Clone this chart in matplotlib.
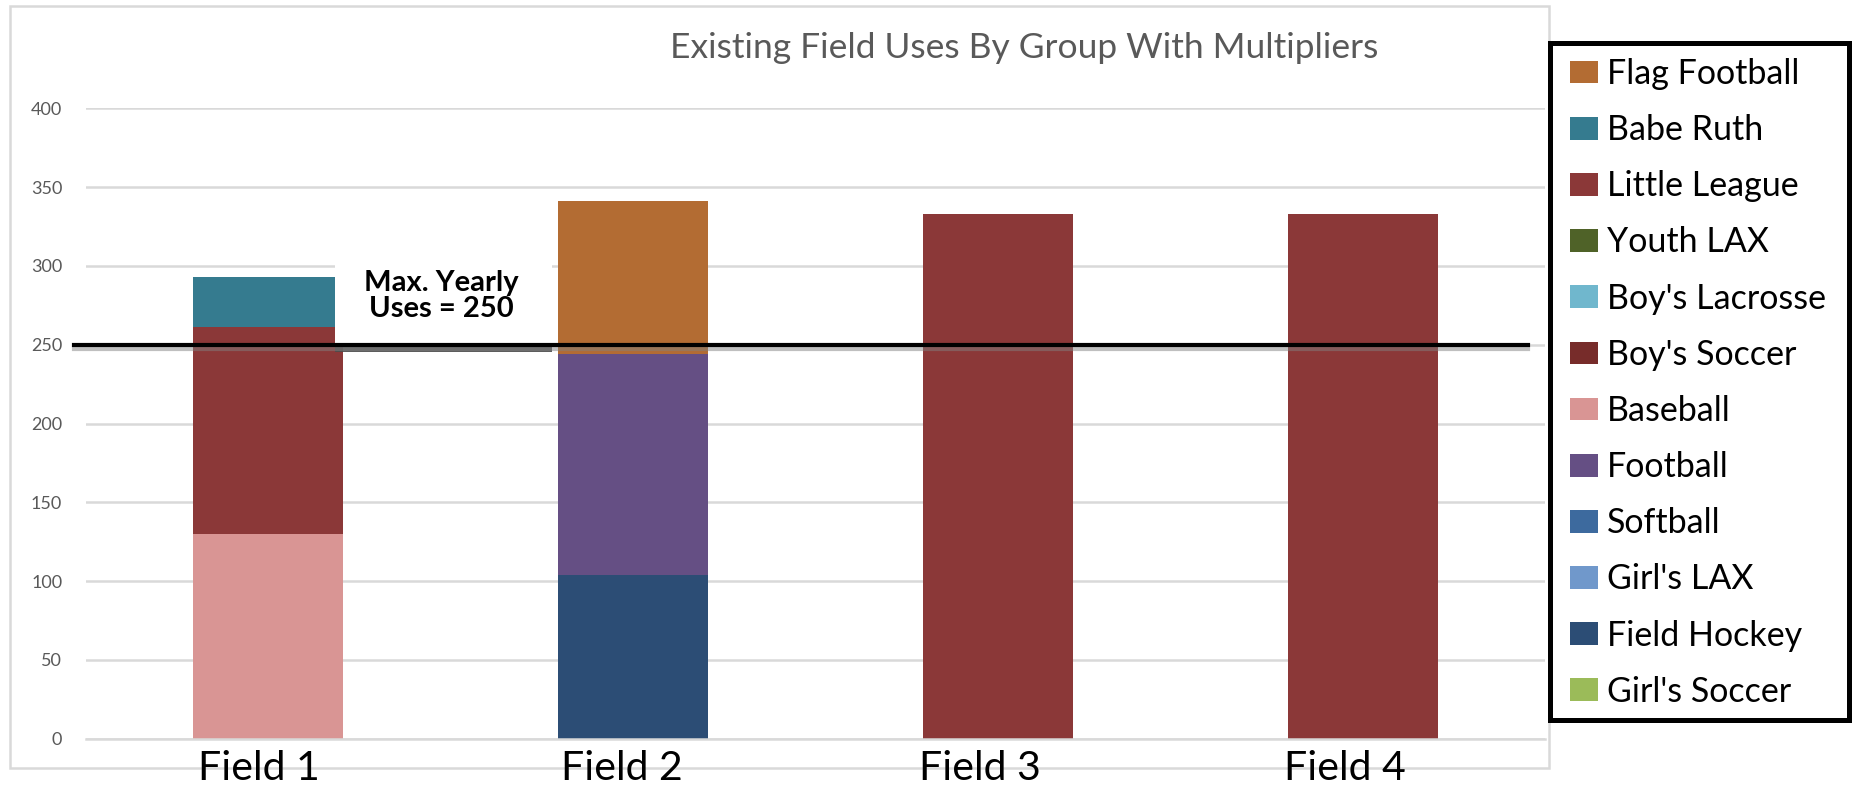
import matplotlib
matplotlib.use("Agg")
import matplotlib.pyplot as plt
import matplotlib.patheffects as pe
from matplotlib.patches import Patch, Rectangle
from matplotlib.transforms import ScaledTranslation
import numpy as np

plt.rcParams['font.family'] = ['Lato', 'DejaVu Sans']

# ---- data ----
fields = ["Field 1", "Field 2", "Field 3", "Field 4"]
# series in stacking order (bottom -> top)
series_names = ["Girl's Soccer", "Field Hockey", "Girl's LAX", "Softball", "Football",
                "Baseball", "Boy's Soccer", "Boy's Lacrosse", "Youth LAX",
                "Little League", "Babe Ruth", "Flag Football"]
girls_soccer   = [0, 0, 0, 0]
field_hockey   = [0, 104, 0, 0]
girls_lax      = [0, 0, 0, 0]
softball       = [0, 0, 0, 0]
football       = [0, 140, 0, 0]
baseball       = [130, 0, 0, 0]
boys_soccer    = [0, 0, 0, 0]
boys_lacrosse  = [0, 0, 0, 0]
youth_lax      = [0, 0, 0, 0]
little_league  = [131, 0, 333, 333]
babe_ruth      = [32, 0, 0, 0]
flag_football  = [0, 97, 0, 0]
series_values = [girls_soccer, field_hockey, girls_lax, softball, football, baseball,
                 boys_soccer, boys_lacrosse, youth_lax, little_league, babe_ruth, flag_football]
series_colors = ["#9BBB59", "#2C4D75", "#7098CB", "#3D6A9E", "#654F84", "#D99594",
                 "#772C2A", "#70B7CD", "#4F6228", "#8B3838", "#357B8F", "#B36C33"]
y_ticks = [0, 50, 100, 150, 200, 250, 300, 350, 400]
max_uses = 250
title = "Existing Field Uses By Group With Multipliers"
note = "Max. Yearly\nUses = 250"

W, H = 1868, 789
S = W / 1568.0  # layout measured on a 1568-wide view


def fx(px):
    return px * S / W


def fy(py):
    return 1 - py * S / H


fig = plt.figure(figsize=(W / 100, H / 100), dpi=100)
fig.patch.set_facecolor("white")

# outer chart frame
frame_rect = Rectangle((fx(8), fy(645)), fx(1300) - fx(8), fy(5) - fy(645),
                       transform=fig.transFigure, fill=False,
                       edgecolor="#D9D9D9", linewidth=1.8, zorder=-5)
fig.patches.append(frame_rect)

ax = fig.add_axes([fx(72), fy(620), fx(1297) - fx(72), fy(91) - fy(620)])
ax.set_zorder(1)
ax.patch.set_alpha(0)
x = np.arange(len(fields))
bottom = np.zeros(len(fields))
for vals, col in zip(series_values, series_colors):
    v = np.array(vals, dtype=float)
    ax.bar(x, v, width=0.41, bottom=bottom, color=col, zorder=2, linewidth=0)
    bottom += v

ax.set_xlim(-0.5, len(fields) - 0.5)
ax.set_ylim(0, 400)
ax.set_yticks(y_ticks)
ax.set_yticklabels([str(t) for t in y_ticks], fontsize=13, color="#595959")
ax.tick_params(axis='y', length=0, pad=17)
ax.set_xticks(x)
ax.set_xticklabels(fields, fontsize=29.5, color="#000000")
ax.tick_params(axis='x', length=0, pad=8.5)
label_shift = [-8, -9, -15, -15]  # display px offsets of the category labels
for lab, dx in zip(ax.get_xticklabels(), label_shift):
    lab.set_transform(lab.get_transform() + ScaledTranslation(dx * S / 100, 0, fig.dpi_scale_trans))
ax.grid(axis='y', color="#D9D9D9", linewidth=1.8, zorder=0)
ax.set_axisbelow(True)
for s in ["top", "right", "left"]:
    ax.spines[s].set_visible(False)
ax.spines["bottom"].set_color("#D9D9D9")
ax.spines["bottom"].set_linewidth(1.8)

# annotation box (white with dark shadow beneath)
box_x0, box_x1, box_top = 0.183, 0.778, 301.7
ax.add_patch(Rectangle((box_x0, max_uses), box_x1 - box_x0, box_top - max_uses,
                       facecolor="white", edgecolor="none", zorder=5,
                       path_effects=[pe.SimplePatchShadow(offset=(0, -5), shadow_rgbFace="#4a4a4a",
                                                          alpha=0.9),
                                     pe.Normal()]))

# max line
ax.axhline(max_uses, xmin=-0.008, xmax=0.988, color="black", linewidth=3, zorder=6,
           clip_on=False,
           path_effects=[pe.SimpleLineShadow(offset=(0, -3), shadow_color="gray", alpha=0.5),
                         pe.Normal()])

ax.text(0.474, 281, note, ha="center", va="center", fontsize=21, fontweight="bold",
        color="black", zorder=7, linespacing=1.0)

fig.text(fx(860), fy(40), title, ha="center", va="center", fontsize=25.5, color="#595959")

# legend (top-to-bottom reverse of stacking)
fig.patches.append(Rectangle((fx(1301), fy(604)), fx(1552) - fx(1301), fy(36.5) - fy(604),
                             transform=fig.transFigure, facecolor="white",
                             edgecolor="black", linewidth=3.6, zorder=3))
handles = [Patch(facecolor=c, edgecolor="none") for c in series_colors][::-1]
labels = series_names[::-1]
leg = fig.legend(handles, labels, loc="upper left",
                 bbox_to_anchor=(fx(1318), fy(48.7)), fontsize=24.5,
                 frameon=False, handlelength=0.82, handleheight=0.65,
                 handletextpad=0.27, labelspacing=0.71, borderpad=0, borderaxespad=0)
leg.set_zorder(4)

fig.savefig("out.png", dpi=100, facecolor="white")
